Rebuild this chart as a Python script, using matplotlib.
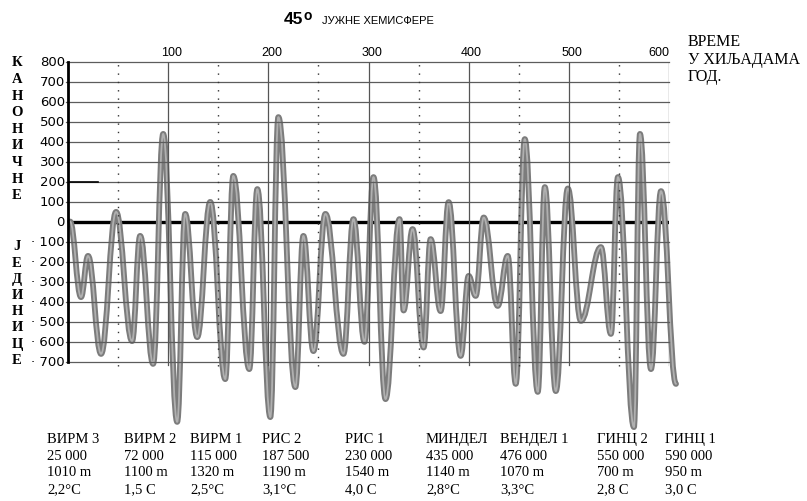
import matplotlib
matplotlib.use("Agg")
import matplotlib.pyplot as plt
import numpy as np
from matplotlib.path import Path
from matplotlib.patches import PathPatch

W, H = 807, 502

# turning points of the curve
# x: thousands of years, y: canonical units
curve_x = [2, 13, 20, 33, 48, 64, 72, 85, 95, 109, 117, 129, 142, 157, 165, 181,
           189, 202, 210, 227, 235, 245, 257, 275, 285, 296, 305, 317, 331, 335,
           344, 355, 362, 372, 380, 392, 400, 407, 415, 429, 439, 447, 456, 469,
           476, 487, 499, 512, 532, 542, 549, 565, 571, 582, 592, 607]
curve_y = [0, -378, -172, -662, 48, -598, -72, -712, 438, -1002, 38, -578, 98, -788,
           228, -738, 162, -978, 522, -828, -72, -648, 38, -662, 12, -602, 222, -888,
           12, -445, -38, -630, -88, -448, 97, -672, -272, -372, 20, -422, -172, -812,
           412, -852, 172, -848, 165, -497, -128, -562, 222, -1028, 438, -738, 152, -812]

top_ticks = [100, 200, 300, 400, 500, 600]
left_ticks = [800, 700, 600, 500, 400, 300, 200, 100, 0,
              -100, -200, -300, -400, -500, -600, -700]
left_labels = ["800", "700", "600", "500", "400", "300", "200", "100", "0",
               "· 100", "· 200", "· 300", "· 400", "· 500", "· 600", "· 700"]

upper_word = "КАНОНИЧНЕ"
lower_word = "ЈЕДИНИЦЕ"

stages = ["ВИРМ 3", "ВИРМ 2", "ВИРМ 1", "РИС 2", "РИС 1", "МИНДЕЛ", "ВЕНДЕЛ 1", "ГИНЦ 2", "ГИНЦ 1"]
ages = ["25 000", "72 000", "115 000", "187 500", "230 000", "435 000", "476 000", "550 000", "590 000"]
snow_lines = ["1010 m", "1100 m", "1320 m", "1190 m", "1540 m", "1140 m", "1070 m", "700 m", "950 m"]
temps = ["2,2°C", "1,5 C", "2,5°C", "3,1°C", "4,0 C", "2,8°C", "3,3°C", "2,8 C", "3,0 C"]

# layout (pixels)
col_px = [47, 124, 190, 262, 345, 426, 500, 597, 665]
row_py = [440, 457, 473, 490]


def fx(px):
    return px / W


def fy(py):
    return 1 - py / H


fig = plt.figure(figsize=(W / 100, H / 100), dpi=100)
ax = fig.add_axes([fx(68), fy(434.5), (669 - 68) / W, (434.5 - 62.5) / H])
ax.set_xlim(0, 600)
ax.set_ylim(-1060, 800)
ax.axis("off")

# grid
for y in left_ticks:
    if y == 0:
        continue
    ax.plot([-2, 600], [y, y], color="#5c5c5c", lw=0.9, zorder=3, clip_on=False)
for x in top_ticks:
    ax.plot([x, x], [-715, 800], color="#555555", lw=0.9, zorder=3)
for x in np.arange(50, 600, 100):
    ax.plot([x, x], [-720, 800], color="#333333", lw=1.0, ls=(0, (1, 5)), zorder=3)

ax.plot([0, 600], [0, 0], color="black", lw=2.4, zorder=1.5)
ax.plot([0, 0], [-700, 800], color="black", lw=2.0, zorder=4, clip_on=False)
ax.plot([0, 30], [200, 200], color="black", lw=1.2, zorder=4)

# curve: smooth segments between the turning points
verts = [(curve_x[0], curve_y[0])]
codes = [Path.MOVETO]
for x0, y0, x1, y1 in zip(curve_x[:-1], curve_y[:-1], curve_x[1:], curve_y[1:]):
    d = (x1 - x0) * 0.4
    verts += [(x0 + d, y0), (x1 - d, y1), (x1, y1)]
    codes += [Path.CURVE4] * 3
path = Path(verts, codes)
ax.add_patch(PathPatch(path, fill=False, edgecolor="#7c7c7c", lw=4.2, zorder=2,
                       clip_on=False, capstyle="round", joinstyle="round"))
ax.add_patch(PathPatch(path, fill=False, edgecolor="#b0b0b0", lw=1.3, zorder=2.1,
                       clip_on=False, capstyle="round", joinstyle="round"))

# tick labels
for x in top_ticks:
    ha = "right" if x == 600 else "center"
    ax.text(x + (0 if x == 600 else 3), 815, str(x), ha=ha, va="bottom",
            fontsize=9, family="Liberation Sans", clip_on=False)
for y, s in zip(left_ticks, left_labels):
    ax.text(-3, y, s, ha="right", va="center", fontsize=9.5,
            family="DejaVu Sans", clip_on=False)

serif = "Liberation Serif"
for i, ch in enumerate(upper_word):
    fig.text(fx(17), fy(63 + i * 16.6), ch, ha="center", va="center",
             fontsize=10.5, fontweight="bold", family=serif)
for i, ch in enumerate(lower_word):
    fig.text(fx(17), fy(247 + i * 16.2), ch, ha="center", va="center",
             fontsize=10.5, fontweight="bold", family=serif)

# title
fig.text(fx(284), fy(20), "45", ha="left", va="center", fontsize=12.5,
         fontweight="bold", family="Liberation Sans")
fig.text(fx(303), fy(16), "o", ha="left", va="center", fontsize=10,
         fontweight="bold", family="Liberation Sans")
fig.text(fx(322), fy(21), "ЈУЖНЕ ХЕМИСФЕРЕ", ha="left", va="center", fontsize=8,
         family="Liberation Sans")

# time axis caption
for py, s in zip([42, 60, 77], ["ВРЕМЕ", "У ХИЉАДАМА", "ГОД."]):
    fig.text(fx(688), fy(py), s, ha="left", va="center", fontsize=11.5, family=serif)

# glaciation table
for px, name, age, snow, t in zip(col_px, stages, ages, snow_lines, temps):
    for py, s in zip(row_py, [name, age, snow, t]):
        fig.text(fx(px), fy(py), s, ha="left", va="center", fontsize=10.5, family=serif)

fig.savefig("out.png", dpi=100)
plt.close(fig)
